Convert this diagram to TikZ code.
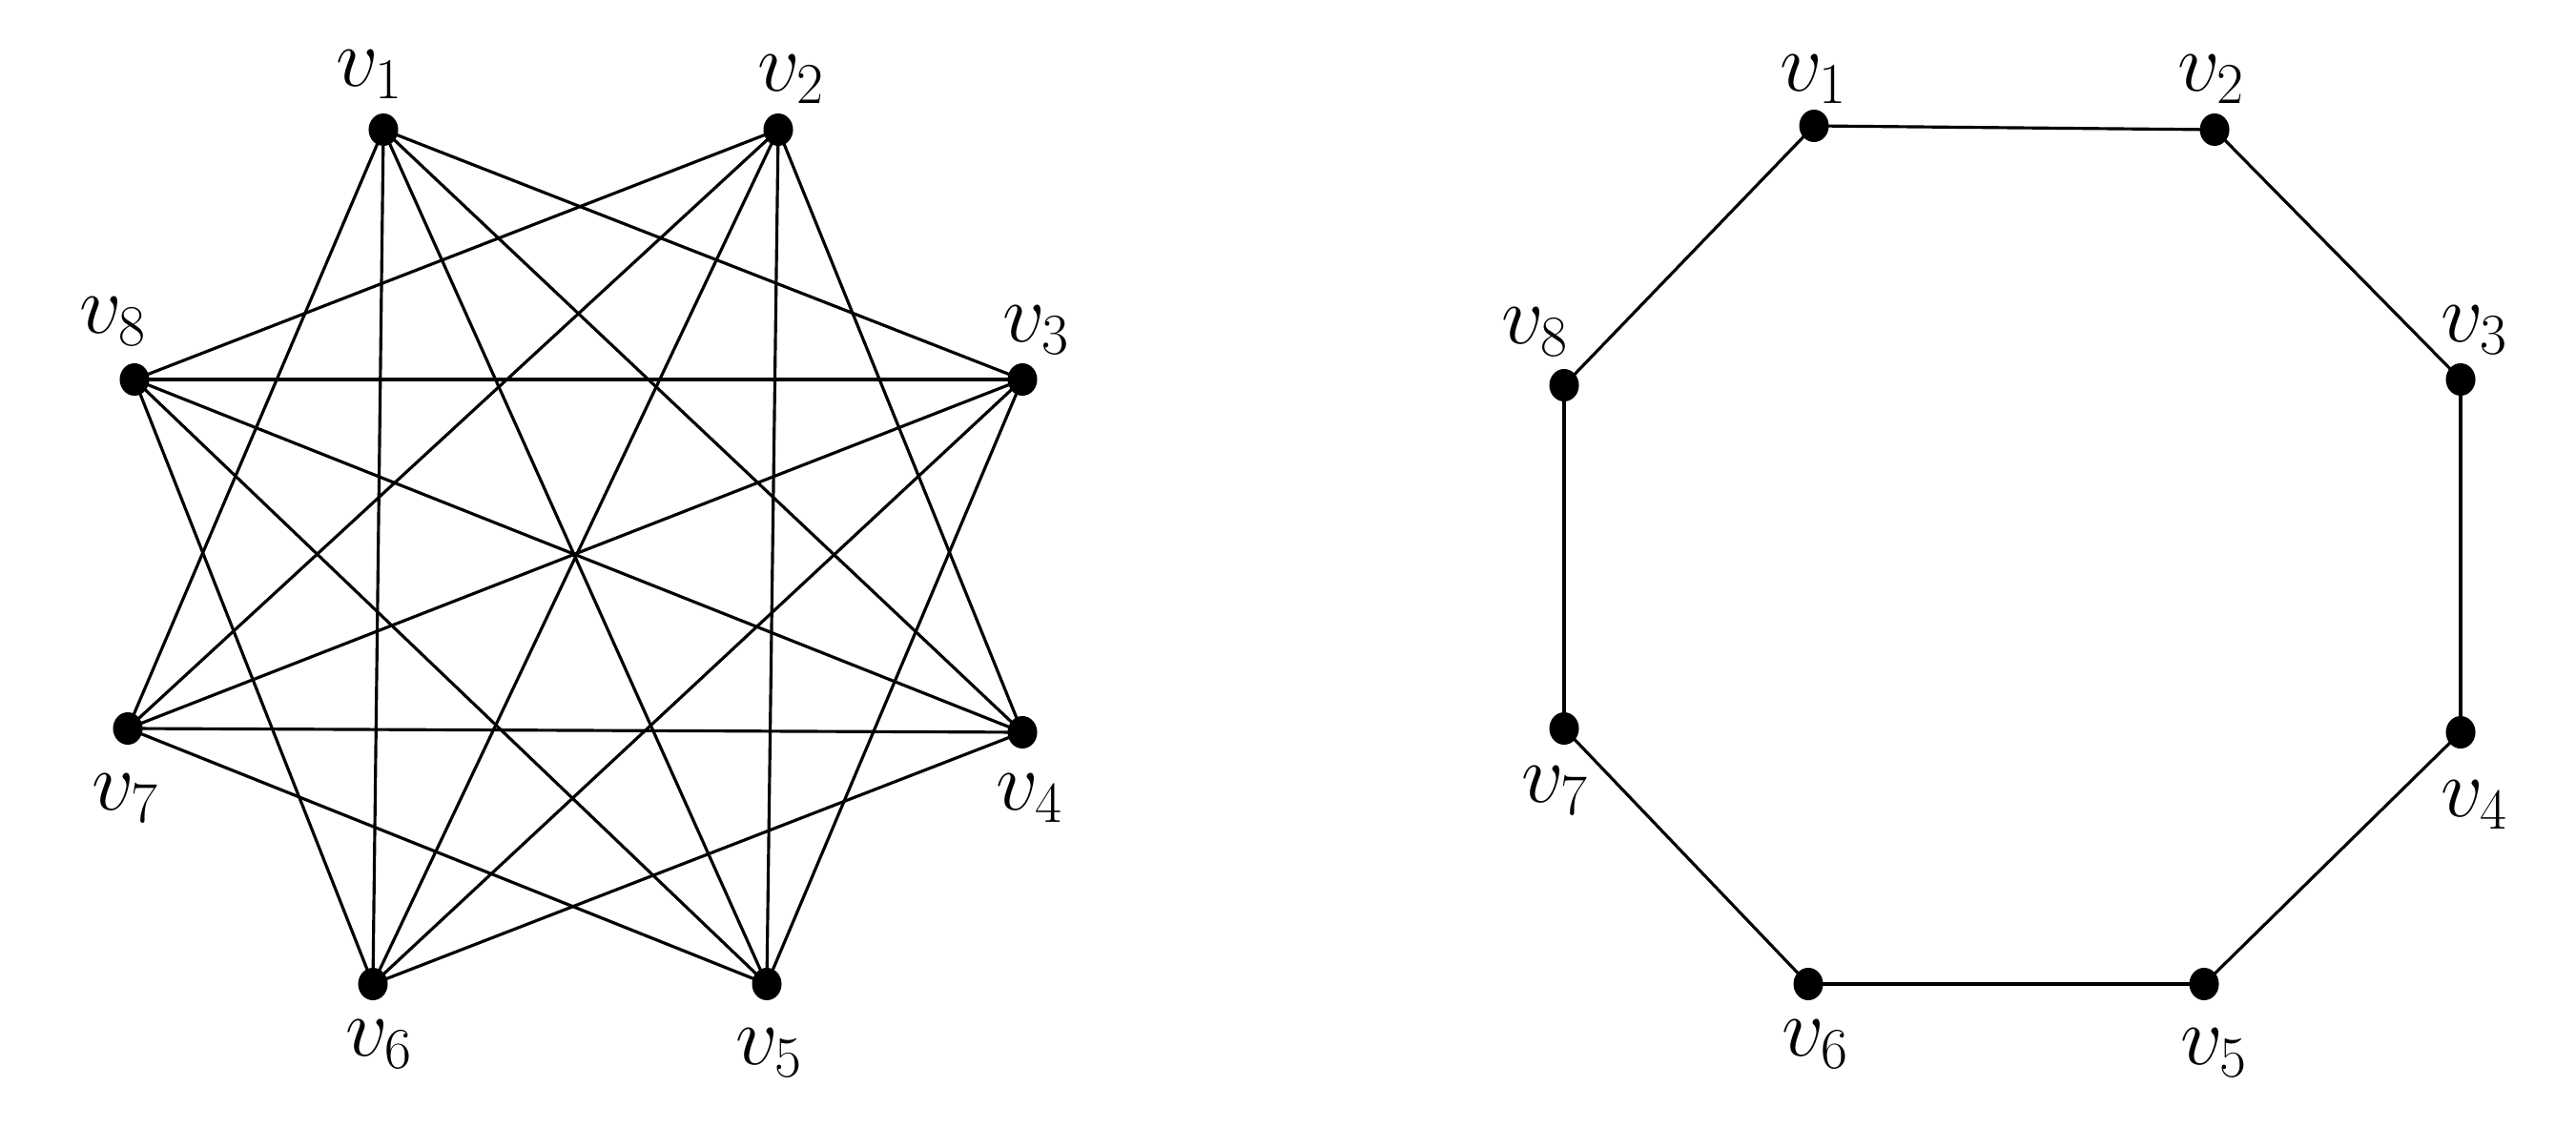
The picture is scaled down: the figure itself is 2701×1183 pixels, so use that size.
\documentclass[tikz,border=0pt]{standalone}
\usetikzlibrary{shapes.geometric}
\begin{document}
\begin{tikzpicture}[x=0.01cm,y=-0.01cm,
  vtx/.style={ellipse,fill=black,inner sep=0pt,minimum width=0.31cm,minimum height=0.34cm},
  lbl/.style={inner sep=0pt,font=\fontsize{26}{30}\selectfont},
  edge/.style={line width=0.9pt,black}]
\useasboundingbox (0,0) rectangle (2701,1183);
% left graph vertices
\node[vtx] (a1) at (402,136) {};
\node[vtx] (a2) at (816,136) {};
\node[vtx] (a3) at (1072,398) {};
\node[vtx] (a4) at (1072,768) {};
\node[vtx] (a5) at (804,1032) {};
\node[vtx] (a6) at (391,1032) {};
\node[vtx] (a7) at (134,764) {};
\node[vtx] (a8) at (141,398) {};
\node[lbl] (la1) at (388,78) {$v_1$};
\node[lbl] (la2) at (830,83) {$v_2$};
\node[lbl] (la3) at (1087,346) {$v_3$};
\node[lbl] (la4) at (1080,837) {$v_4$};
\node[lbl] (la5) at (807,1104) {$v_5$};
\node[lbl] (la6) at (398,1095) {$v_6$};
\node[lbl] (la7) at (132,837) {$v_7$};
\node[lbl] (la8) at (119,337) {$v_8$};
% right graph vertices
\node[vtx] (b1) at (1902,132) {};
\node[vtx] (b2) at (2322,136) {};
\node[vtx] (b3) at (2580,398) {};
\node[vtx] (b4) at (2580,768) {};
\node[vtx] (b5) at (2311,1032) {};
\node[vtx] (b6) at (1896,1032) {};
\node[vtx] (b7) at (1640,764) {};
\node[vtx] (b8) at (1640,404) {};
\node[lbl] (lb1) at (1902,83) {$v_1$};
\node[lbl] (lb2) at (2319,83) {$v_2$};
\node[lbl] (lb3) at (2595,346) {$v_3$};
\node[lbl] (lb4) at (2595,844) {$v_4$};
\node[lbl] (lb5) at (2322,1104) {$v_5$};
\node[lbl] (lb6) at (1904,1095) {$v_6$};
\node[lbl] (lb7) at (1631,829) {$v_7$};
\node[lbl] (lb8) at (1610,348) {$v_8$};
% left: complement of C8
\foreach \i/\j in {1/3,1/4,1/5,1/6,1/7,2/4,2/5,2/6,2/7,2/8,3/5,3/6,3/7,3/8,4/6,4/7,4/8,5/7,5/8,6/8}
  \draw[edge] (a\i.center) -- (a\j.center);
% right: cycle C8
\foreach \i/\j in {1/2,2/3,3/4,4/5,5/6,6/7,7/8,8/1}
  \draw[edge] (b\i.center) -- (b\j.center);
\end{tikzpicture}
\end{document}
